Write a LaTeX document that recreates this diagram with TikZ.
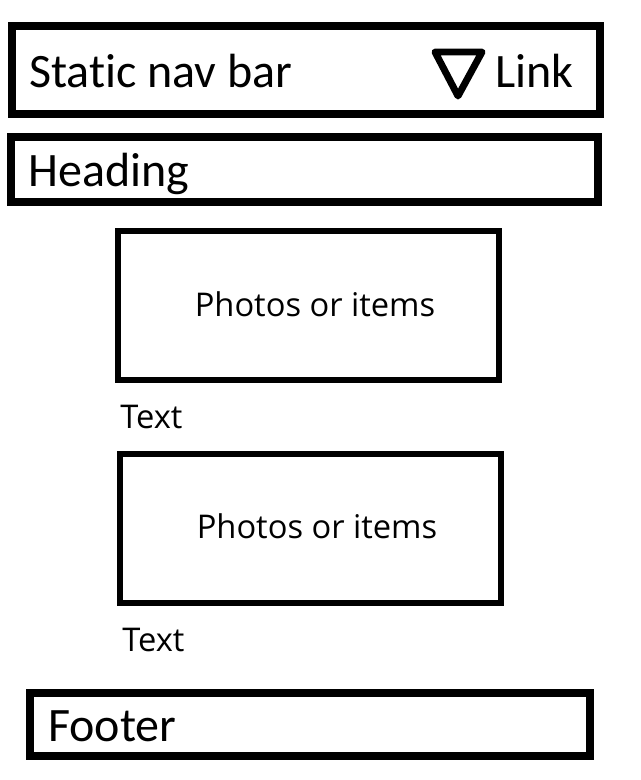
\documentclass[tikz,border=0pt]{standalone}
\usepackage{fontspec}
\setmainfont{Carlito}[Ligatures=NoCommon]
\newfontfamily\itemfont{Open Sans}
\usepackage{tikz}
\usetikzlibrary{positioning}
\tikzset{
    bar/.style={draw=black, line width=6pt},
    photobox/.style={draw=black, line width=4.5pt},
    bigtext/.style={inner sep=0pt, anchor=base west, font=\fontsize{36}{43}\selectfont},
    itemtext/.style={inner sep=0pt, anchor=base, font=\itemfont\fontsize{24.5}{30}\selectfont},
    caption/.style={inner sep=0pt, anchor=base west, font=\itemfont\fontsize{24.5}{30}\selectfont},
    dropdown/.style={draw=black, line width=5.2pt, line join=round, line cap=round}
}
\begin{document}
\begin{tikzpicture}[x=0.75pt, y=-0.75pt]
    \useasboundingbox[fill=white] (0,0) rectangle (640,780);

    % Nav bar
    \draw[bar] (12,26) rectangle (600,114);
    \node[bigtext] (navtitle) at (29,88) {Static nav bar};
    \draw[dropdown] (435,52) -- (482,52) -- (458,96) -- cycle;
    \node[bigtext] (navlink) at (495,88) {Link};

    % Heading
    \draw[bar] (11,137) rectangle (598,202);
    \node[bigtext] (heading) at (28,187) {Heading};

    % Items
    \draw[photobox] (118,231) rectangle (499,380);
    \node[itemtext] (itemsA) at (315,316) {Photos or items};
    \node[caption] (textA) at (120,428) {Text};

    \draw[photobox] (120,454) rectangle (501,603);
    \node[itemtext] (itemsB) at (317,538) {Photos or items};
    \node[caption] (textB) at (122,651) {Text};

    % Footer
    \draw[bar] (30,693) rectangle (590,756);
    \node[bigtext] (footer) at (48,741) {Footer};
\end{tikzpicture}
\end{document}
